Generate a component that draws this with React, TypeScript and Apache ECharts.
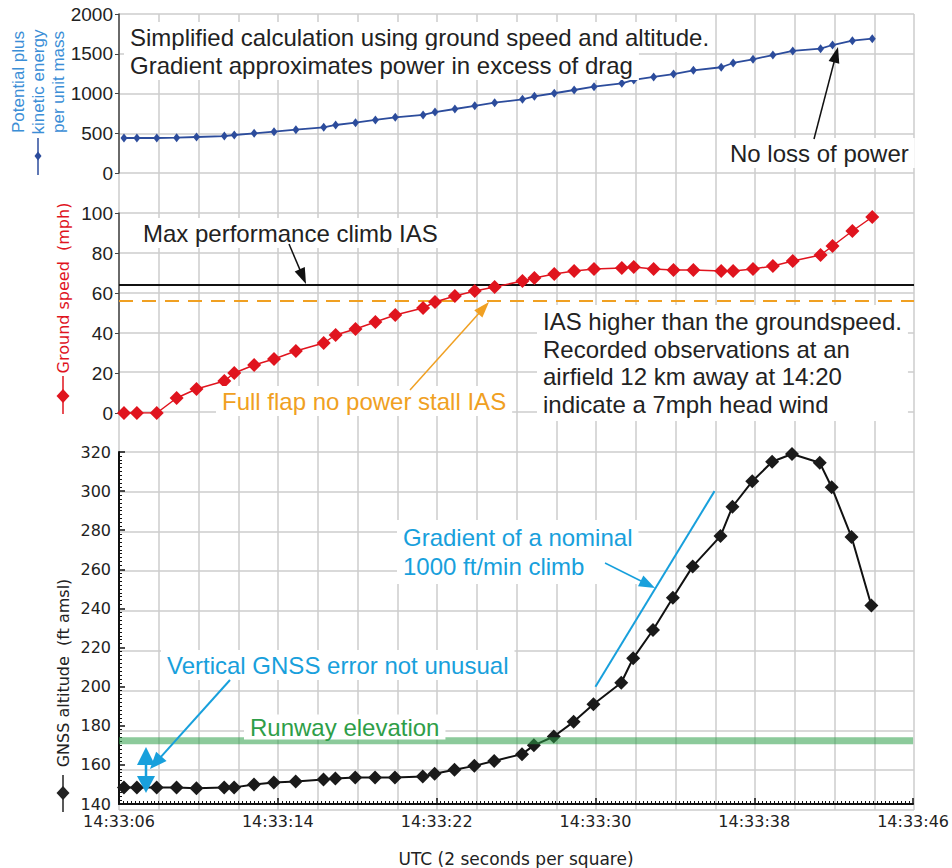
import React, { useEffect, useRef } from "react";
import * as echarts from "echarts";

// seconds after 14:33:06 UTC
const timeSec = [0.25, 0.9, 1.9, 2.9, 3.9, 5.3, 5.8, 6.8, 7.8, 8.9, 10.3, 10.9, 11.9, 12.9, 13.9, 15.3, 15.9, 16.9, 17.9, 18.9, 20.3, 20.9, 21.9, 22.9, 23.9, 25.3, 25.9, 26.9, 27.9, 28.9, 30.3, 30.9, 31.9, 32.9, 33.9, 35.3, 35.9, 36.9, 37.9];
const energy = [440, 440, 440, 444, 453, 465, 478, 499, 520, 545, 575, 604, 633, 667, 700, 730, 767, 805, 845, 884, 927, 965, 1003, 1044, 1086, 1128, 1170, 1208, 1245, 1292, 1330, 1384, 1430, 1484, 1535, 1564, 1610, 1665, 1690];
const groundSpeed = [0, 0, 0, 7.5, 12, 16, 20, 24, 27, 31, 35, 39, 42, 45.5, 49, 52.5, 55.5, 58.5, 61, 63, 66, 67.5, 69.5, 71, 72, 72.5, 73, 72, 71.5, 71.5, 71, 71, 72, 73.5, 76, 79, 83.5, 91, 98];
const altitude = [148.5, 148.5, 148.5, 148.5, 148, 148.5, 148.5, 150, 151, 151.5, 152.5, 153, 153.5, 153.5, 153.5, 154, 155.5, 157.5, 159.5, 162, 165.5, 170, 174.5, 182, 191, 202, 214.5, 229, 245.5, 261.5, 277, 292, 305, 315, 319, 314.5, 302, 276.5, 241.5];
const xTickLabels = ["14:33:06", "14:33:14", "14:33:22", "14:33:30", "14:33:38", "14:33:46"];
const maxClimbIAS = 64;
const stallIAS = 56;
const runwayElevation = 172.3;
const nominalClimbTimes = [24, 30];
const nominalClimbAlts = [200, 300];

const L = 119;
const PW = 795;
const BLUE = "#18a0dc";
const ORANGE = "#f0a022";
const GREEN = "#2e9e48";
const RED = "#e0141e";
const NAVY = "#2c4c9c";
const TXT = "#222222";
const SANS = '"Liberation Sans", Arial, sans-serif';
const ROUND = '"DejaVu Sans", sans-serif';

function arrow(x1: number, y1: number, x2: number, y2: number, color: string, len = 14, half = 5, width = 1.5) {
  const dx = x2 - x1, dy = y2 - y1;
  const d = Math.hypot(dx, dy);
  const ux = dx / d, uy = dy / d;
  const bx = x2 - ux * len, by = y2 - uy * len;
  const px = -uy, py = ux;
  return [
    { type: "line", z: 60, shape: { x1, y1, x2: bx + ux * 2, y2: by + uy * 2 }, style: { stroke: color, lineWidth: width } },
    { type: "polygon", z: 60, shape: { points: [[x2, y2], [bx + px * half, by + py * half], [bx - px * half, by - py * half]] }, style: { fill: color } },
  ];
}

function note(text: string, x: number, y: number, color: string, extra: any = {}) {
  return {
    type: "text",
    x,
    y,
    z: 50,
    style: {
      text,
      fill: color,
      font: `24px ${SANS}`,
      align: "left",
      verticalAlign: "middle",
      backgroundColor: "#ffffff",
      padding: [3, 6, 3, 6],
      ...extra,
    },
  };
}

function diamond(cx: number, cy: number, w: number, h: number, color: string) {
  return {
    type: "polygon",
    z: 50,
    shape: { points: [[cx, cy - h / 2], [cx + w / 2, cy], [cx, cy + h / 2], [cx - w / 2, cy]] },
    style: { fill: color },
  };
}

function vline(x: number, y1: number, y2: number, color: string, w = 1.5) {
  return { type: "line", z: 50, shape: { x1: x, y1, x2: x, y2 }, style: { stroke: color, lineWidth: w } };
}

function rotText(text: string, x: number, y: number, color: string, font: string, lineHeight?: number) {
  return {
    type: "text",
    x,
    y,
    rotation: Math.PI / 2,
    z: 50,
    style: { text, fill: color, font, align: "center", verticalAlign: "middle", lineHeight },
  };
}

export default function App() {
  const ref = useRef<HTMLDivElement>(null);
  useEffect(() => {
    if (!ref.current) return;
    const chart = echarts.init(ref.current, undefined, { renderer: "svg" });
    const pairs = (ys: number[]) => timeSec.map((t, i) => [t, ys[i]]);
    const hiddenX = (gi: number) => ({ type: "value", gridIndex: gi, min: 0, max: 40, show: false });
    const gridLineColor = "#cdcdcd";

    const graphic: any[] = [
      // y axis names
      rotText("Potential plus\nkinetic energy\nper unit mass", 38, 82, "#3b8ed6", `17px ${SANS}`, 20),
      vline(38, 138, 175, NAVY),
      diamond(38, 156, 7, 9, NAVY),
      rotText("Ground speed  (mph)", 63, 288, RED, `16px ${ROUND}`),
      vline(63, 376, 414, RED),
      diamond(63, 396, 13, 14, RED),
      rotText("GNSS altitude  (ft amsl)", 63, 673, TXT, `16px ${ROUND}`),
      vline(63, 775, 812, TXT),
      diamond(63, 793, 13, 14, TXT),
      // annotations
      note("Simplified calculation using ground speed and altitude.", 124, 37, TXT),
      note("Gradient approximates power in excess of drag", 124, 65, TXT),
      note("No loss of power", 724, 153, TXT),
      note("Max performance climb IAS", 137, 233, TXT),
      note("IAS higher than the groundspeed.\nRecorded observations at an\nairfield 12 km away at 14:20\nindicate a 7mph head wind", 537, 363, TXT, { lineHeight: 27.5 }),
      note("Full flap no power stall IAS", 216, 401, ORANGE),
      note("Gradient of a nominal\n1000 ft/min climb", 397, 552, BLUE, { lineHeight: 29 }),
      note("Vertical GNSS error not unusual", 161, 665, BLUE),
      note("Runway elevation", 244, 727, GREEN, { padding: [1, 6, 0, 6], lineHeight: 24 }),
      ...arrow(814, 139, 838, 47, "#111", 16, 5.5),
      ...arrow(289, 244, 306, 284, "#111", 16, 5.5),
      ...arrow(410, 390, 489, 302, ORANGE, 16, 5.5),
      ...arrow(605, 563, 655, 588, BLUE, 16, 6),
      ...arrow(230, 680, 150, 769, BLUE, 17, 7, 2),
      // double-headed error arrow
      vline(146, 760, 780, BLUE, 2.5),
      { type: "polygon", z: 60, shape: { points: [[146, 747], [155, 765], [137, 765]] }, style: { fill: BLUE } },
      { type: "polygon", z: 60, shape: { points: [[146, 793], [155, 776], [137, 776]] }, style: { fill: BLUE } },
    ];

    chart.setOption({
      animation: false,
      backgroundColor: "#ffffff",
      grid: [
        { left: L, top: 14, width: PW, height: 796 },
        { left: L, top: 14, width: PW, height: 159 },
        { left: L, top: 213, width: PW, height: 200 },
        { left: L, top: 452, width: PW, height: 358 },
      ],
      xAxis: [
        {
          type: "value", gridIndex: 0, min: 0, max: 40, interval: 2,
          axisLine: { show: false }, axisTick: { show: false }, axisLabel: { show: false },
          splitLine: { show: true, lineStyle: { color: gridLineColor, width: 1.5 } },
        },
        hiddenX(1),
        hiddenX(2),
        {
          type: "value", gridIndex: 3, min: 0, max: 40, interval: 8,
          axisLine: { show: true, lineStyle: { color: "#111", width: 2 } },
          axisTick: { show: true, inside: true, length: 6, lineStyle: { color: "#111", width: 1.5 } },
          minorTick: { show: true, splitNumber: 40, length: 3, lineStyle: { color: "#111", width: 1 } },
          splitLine: { show: false },
          axisLabel: {
            color: TXT, fontFamily: ROUND, fontSize: 16, margin: 9, lineHeight: 16,
            formatter: (v: number) => xTickLabels[Math.round(v / 8)] ?? "",
          },
          name: "UTC (2 seconds per square)",
          nameLocation: "middle",
          nameGap: 46,
          nameTextStyle: { color: TXT, fontFamily: ROUND, fontSize: 17 },
        },
      ],
      yAxis: [
        {
          type: "value", gridIndex: 0, min: 0, max: 20, interval: 1,
          axisLine: { show: false }, axisTick: { show: false }, axisLabel: { show: false },
          splitLine: { show: true, lineStyle: { color: gridLineColor, width: 1.5 } },
        },
        {
          type: "value", gridIndex: 1, min: 0, max: 2000, interval: 500,
          axisLine: { show: true, lineStyle: { color: "#444", width: 1.5 } },
          axisTick: { show: true, length: 4, lineStyle: { color: "#444" } },
          splitLine: { show: false },
          axisLabel: { color: TXT, fontFamily: SANS, fontSize: 19, margin: 6, formatter: (v: number) => String(v) },
        },
        {
          type: "value", gridIndex: 2, min: 0, max: 100, interval: 20,
          axisLine: { show: true, lineStyle: { color: "#444", width: 1.5 } },
          axisTick: { show: true, length: 4, lineStyle: { color: "#444" } },
          splitLine: { show: false },
          axisLabel: { color: TXT, fontFamily: SANS, fontSize: 19, margin: 6 },
        },
        {
          type: "value", gridIndex: 3, min: 140, max: 320, interval: 20,
          axisLine: { show: true, lineStyle: { color: "#111", width: 2 } },
          axisTick: { show: true, inside: true, length: 6, lineStyle: { color: "#111", width: 1.5 } },
          minorTick: { show: true, splitNumber: 10, length: 3, lineStyle: { color: "#111", width: 1 } },
          splitLine: { show: false },
          axisLabel: { color: TXT, fontFamily: ROUND, fontSize: 16, margin: 8, lineHeight: 14 },
        },
      ],
      series: [
        {
          type: "line", xAxisIndex: 1, yAxisIndex: 1, data: pairs(energy), z: 3,
          symbol: "diamond", symbolSize: [7, 9],
          lineStyle: { color: NAVY, width: 1.8 }, itemStyle: { color: NAVY },
        },
        {
          type: "line", xAxisIndex: 2, yAxisIndex: 2, z: 1, symbol: "none",
          data: [[0, maxClimbIAS], [40, maxClimbIAS]],
          lineStyle: { color: "#111", width: 1.8 },
        },
        {
          type: "line", xAxisIndex: 2, yAxisIndex: 2, z: 1, symbol: "none",
          data: [[0, stallIAS], [40, stallIAS]],
          lineStyle: { color: ORANGE, width: 2, type: [14, 9] },
        },
        {
          type: "line", xAxisIndex: 2, yAxisIndex: 2, data: pairs(groundSpeed), z: 3,
          symbol: "diamond", symbolSize: 14,
          lineStyle: { color: RED, width: 1.5 }, itemStyle: { color: RED },
        },
        {
          type: "line", xAxisIndex: 3, yAxisIndex: 3, data: pairs(altitude), z: 3,
          symbol: "diamond", symbolSize: 14,
          lineStyle: { color: "#111", width: 2 }, itemStyle: { color: "#1a1a1a" },
        },
        {
          type: "line", xAxisIndex: 3, yAxisIndex: 3, z: 4, symbol: "none",
          data: [[0, runwayElevation], [40, runwayElevation]],
          lineStyle: { color: GREEN, width: 7, opacity: 0.55 },
        },
        {
          type: "line", xAxisIndex: 3, yAxisIndex: 3, z: 4, symbol: "none",
          data: nominalClimbTimes.map((t, i) => [t, nominalClimbAlts[i]]),
          lineStyle: { color: BLUE, width: 2 },
        },
      ],
      graphic,
    });
    return () => chart.dispose();
  }, []);
  return <div ref={ref} style={{ position: "fixed", left: 0, top: 0, width: 952, height: 868, background: "#fff" }} />;
}
